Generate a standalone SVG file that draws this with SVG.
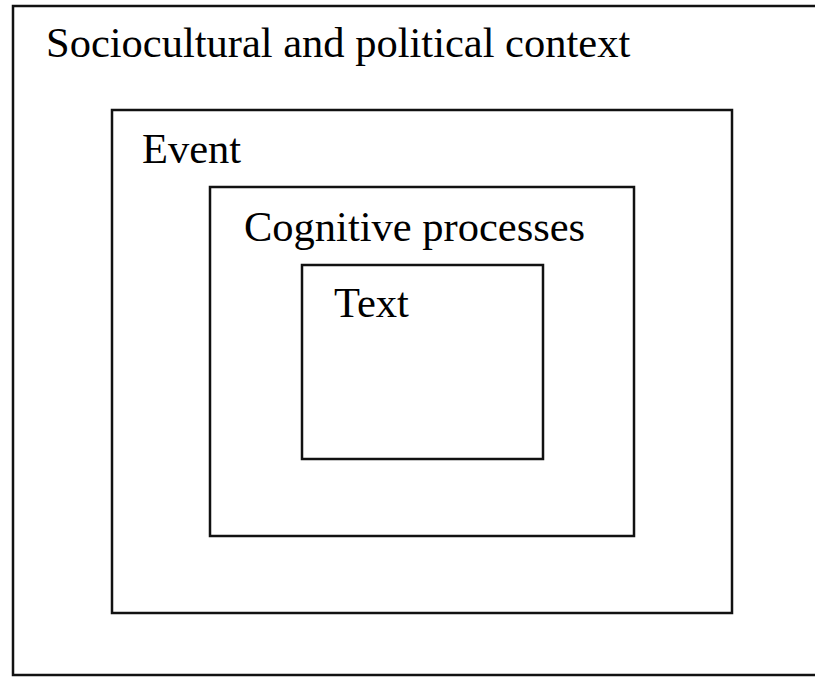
<svg xmlns="http://www.w3.org/2000/svg" width="815" height="677" viewBox="0 0 815 677">
<style>
.box{fill:none;stroke:#111;stroke-width:2.5}
.lbl{font-family:"Liberation Serif","Times New Roman",serif;font-size:42.5px;fill:#000}
</style>
<rect x="0" y="0" width="815" height="677" fill="#fff"/>
<g id="context">
<rect class="box" x="13" y="6" width="810" height="669"/>
<text class="lbl" x="46" y="57">Sociocultural and political context</text>
</g>
<g id="event">
<rect class="box" x="112" y="110" width="620" height="503"/>
<text class="lbl" x="142" y="163">Event</text>
</g>
<g id="cognitive">
<rect class="box" x="210" y="187" width="424" height="349"/>
<text class="lbl" x="244" y="241">Cognitive processes</text>
</g>
<g id="text">
<rect class="box" x="302" y="265" width="241" height="194"/>
<text class="lbl" x="334" y="317">Text</text>
</g>
<g id="connectors"/>
</svg>
